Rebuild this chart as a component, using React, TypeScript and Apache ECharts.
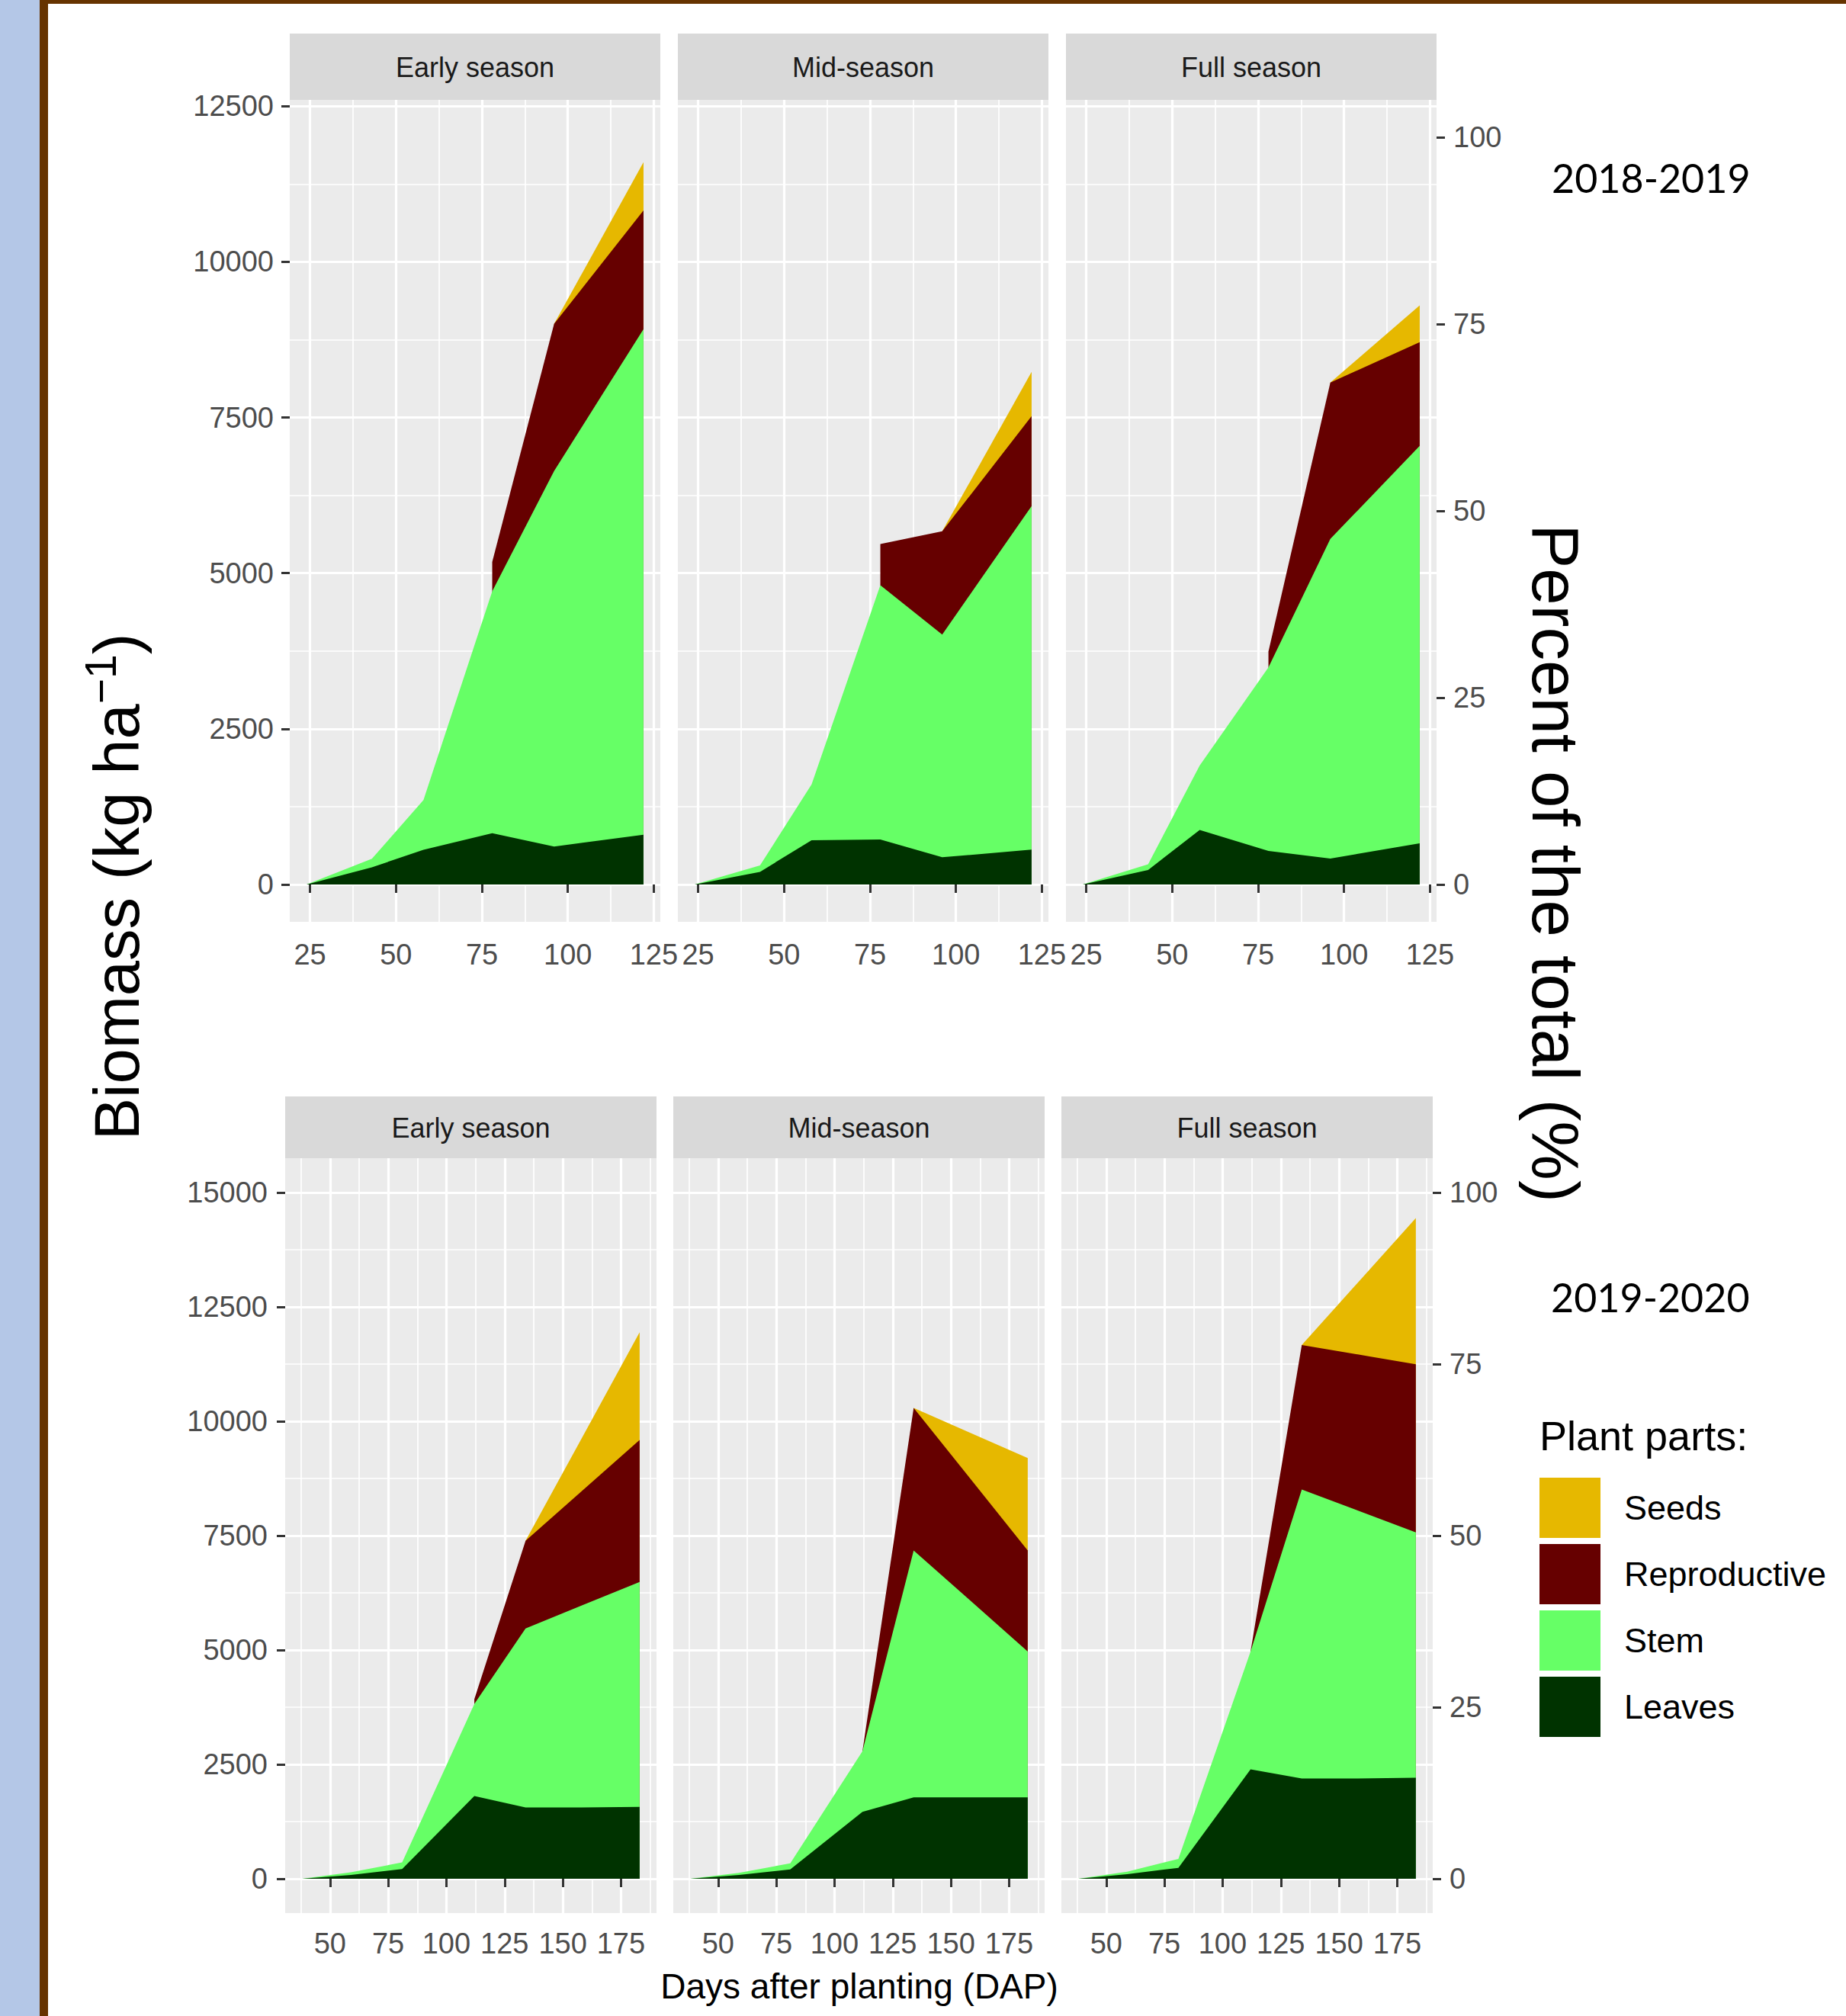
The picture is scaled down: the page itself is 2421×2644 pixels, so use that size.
import React, { useEffect, useRef } from 'react';
import * as echarts from 'echarts';

// ---------------- data ----------------
const SEASONS = ['Early season', 'Mid-season', 'Full season'];
const PARTS = ['Seeds', 'Reproductive', 'Stem', 'Leaves'];
const PART_COLORS = ['#E6B800', '#660000', '#66FF66', '#003300'];

const DAP_2018 = [24, 43, 58, 78, 96, 122];
const DAP_2019 = [38, 59, 81, 112, 134, 158, 183];

// 2018-2019, biomass of each plant part (kg/ha)
const LEAVES_18_EARLY = [0, 275, 558, 825, 610, 799];
const STEM_18_EARLY = [0, 137, 799, 3883, 6031, 8119];
const REPRO_18_EARLY = [null, null, null, 472, 2362, 1907];
const SEEDS_18_EARLY = [null, null, null, null, 0, 773];

const LEAVES_18_MID = [0, 203, 711, 721, 437, 559];
const STEM_18_MID = [0, 102, 895, 4086, 3577, 5518];
const REPRO_18_MID = [null, null, null, 660, 1657, 1443];
const SEEDS_18_MID = [null, null, null, null, 0, 712];

const LEAVES_18_FULL = [0, 234, 874, 539, 417, 660];
const STEM_18_FULL = [0, 91, 1037, 2947, 5132, 6383];
const REPRO_18_FULL = [null, null, null, 254, 2510, 1666];
const SEEDS_18_FULL = [null, null, null, null, 0, 590];

// 2019-2020
const LEAVES_19_EARLY = [0, 85, 211, 1810, 1559, 1560, 1572];
const STEM_19_EARLY = [0, 55, 146, 2009, 3911, 4409, 4916];
const REPRO_19_EARLY = [null, null, null, 105, 1916, 2497, 3105];
const SEEDS_19_EARLY = [null, null, null, null, 0, 1152, 2352];

const LEAVES_19_MID = [0, 83, 205, 1461, 1778, 1778, 1778];
const STEM_19_MID = [0, 45, 134, 1327, 5397, 4316, 3190];
const REPRO_19_MID = [null, null, null, 0, 3118, 2672, 2207];
const SEEDS_19_MID = [null, null, null, null, 0, 990, 2022];

const LEAVES_19_FULL = [0, 100, 239, 2392, 2193, 2193, 2210];
const STEM_19_FULL = [0, 55, 194, 2576, 6317, 5857, 5361];
const REPRO_19_FULL = [null, null, null, 0, 3158, 3411, 3674];
const SEEDS_19_FULL = [null, null, null, null, 0, 1566, 3198];

// axis breaks
const X_TICKS_2018 = [25, 50, 75, 100, 125];
const X_TICKS_2019 = [50, 75, 100, 125, 150, 175];
const Y_TICKS_2018 = [0, 2500, 5000, 7500, 10000, 12500];
const Y_TICKS_2019 = [0, 2500, 5000, 7500, 10000, 12500, 15000];
const PCT_TICKS = [0, 25, 50, 75, 100];
const Y_LIMITS_2018 = [0, 12000]; // 12000 kg/ha = 100 %
const Y_LIMITS_2019 = [0, 15000]; // 15000 kg/ha = 100 %

const YEARS = ['2018-2019', '2019-2020'];

// ---------------- layout ----------------
const W = 2421;
const H = 2644;
const FONT = 'Liberation Sans, Arial, Helvetica, sans-serif';

const ROWS = [
  { top: 131, height: 1078, lefts: [380, 889, 1398], width: 486, stripTop: 44, stripH: 87, xMargin: 24 },
  { top: 1519, height: 990, lefts: [374, 883, 1392], width: 487, stripTop: 1438, stripH: 81, xMargin: 21 },
];

type Layer = (number | null)[];

const PANELS: { row: number; col: number; dap: number[]; layers: Layer[] }[] = [
  { row: 0, col: 0, dap: DAP_2018, layers: [LEAVES_18_EARLY, STEM_18_EARLY, REPRO_18_EARLY, SEEDS_18_EARLY] },
  { row: 0, col: 1, dap: DAP_2018, layers: [LEAVES_18_MID, STEM_18_MID, REPRO_18_MID, SEEDS_18_MID] },
  { row: 0, col: 2, dap: DAP_2018, layers: [LEAVES_18_FULL, STEM_18_FULL, REPRO_18_FULL, SEEDS_18_FULL] },
  { row: 1, col: 0, dap: DAP_2019, layers: [LEAVES_19_EARLY, STEM_19_EARLY, REPRO_19_EARLY, SEEDS_19_EARLY] },
  { row: 1, col: 1, dap: DAP_2019, layers: [LEAVES_19_MID, STEM_19_MID, REPRO_19_MID, SEEDS_19_MID] },
  { row: 1, col: 2, dap: DAP_2019, layers: [LEAVES_19_FULL, STEM_19_FULL, REPRO_19_FULL, SEEDS_19_FULL] },
];

// cumulative tops (bottom layer first), missing values stay missing
function cumulate(layers: Layer[]): Layer[] {
  const n = layers[0].length;
  const running = new Array(n).fill(0);
  return layers.map((layer) =>
    layer.map((v, k) => {
      if (v == null) return null;
      running[k] += v;
      return running[k];
    })
  );
}

// ggplot2 default 5% expansion
function expand(lo: number, hi: number): [number, number] {
  const pad = (hi - lo) * 0.05;
  return [lo - pad, hi + pad];
}

const majorLine = { show: true, lineStyle: { color: '#FFFFFF', width: 3.2 } };
const minorLine = { show: true, lineStyle: { color: '#FFFFFF', width: 1.7 } };
const tickStyle = { length: 11, lineStyle: { color: '#333333', width: 3 } };
const labelStyle = { fontFamily: FONT, fontSize: 38, color: '#4D4D4D' };
const plain = (v: number) => String(v);

function buildOption() {
  const grid: any[] = [];
  const xAxis: any[] = [];
  const yAxis: any[] = [];
  const series: any[] = [];
  const graphic: any[] = [];

  // page decorations
  graphic.push({ type: 'rect', shape: { x: 0, y: 0, width: 52, height: H }, style: { fill: '#B4C7E7' }, silent: true });
  graphic.push({ type: 'rect', shape: { x: 52, y: 0, width: 11, height: H }, style: { fill: '#663300' }, silent: true });
  graphic.push({ type: 'rect', shape: { x: 52, y: 0, width: W - 52, height: 5 }, style: { fill: '#663300' }, silent: true });

  PANELS.forEach((p, i) => {
    const r = ROWS[p.row];
    const left = r.lefts[p.col];
    grid.push({
      left, top: r.top, width: r.width, height: r.height,
      show: true, backgroundColor: '#EBEBEB', borderWidth: 0, containLabel: false,
    });
    const xr = expand(Math.min(...p.dap), Math.max(...p.dap));
    const xt = p.row === 0 ? X_TICKS_2018 : X_TICKS_2019;
    xAxis.push({
      type: 'value', gridIndex: i, min: xr[0], max: xr[1], minInterval: 25, maxInterval: 25,
      axisLine: { show: false },
      axisTick: { show: true, ...tickStyle, customValues: xt },
      axisLabel: { show: true, ...labelStyle, margin: r.xMargin, customValues: xt, formatter: plain },
      splitLine: majorLine,
      minorTick: { show: false, splitNumber: 2 },
      minorSplitLine: minorLine,
    });
    const lim = p.row === 0 ? Y_LIMITS_2018 : Y_LIMITS_2019;
    const yr = expand(lim[0], lim[1]);
    const yt = p.row === 0 ? Y_TICKS_2018 : Y_TICKS_2019;
    const showY = p.col === 0;
    yAxis.push({
      type: 'value', gridIndex: i, min: yr[0], max: yr[1], minInterval: 2500, maxInterval: 2500,
      axisLine: { show: false },
      axisTick: { show: showY, ...tickStyle, customValues: yt },
      axisLabel: { show: showY, ...labelStyle, margin: p.row === 0 ? 21 : 23, customValues: yt, formatter: plain },
      splitLine: majorLine,
      minorTick: { show: false, splitNumber: 2 },
      minorSplitLine: minorLine,
    });

    // strip
    graphic.push({
      type: 'rect', shape: { x: left, y: r.stripTop, width: r.width, height: r.stripH },
      style: { fill: '#D9D9D9' }, silent: true,
    });
    graphic.push({
      type: 'text', x: left + r.width / 2, y: r.stripTop + r.stripH / 2 + 1, silent: true,
      style: { text: SEASONS[p.col], fontFamily: FONT, fontSize: 36, fill: '#1A1A1A', align: 'center', verticalAlign: 'middle' },
    });

    const tops = cumulate(p.layers); // leaves, stem, repro, seeds
    PARTS.forEach((name, j) => {
      const top = tops[3 - j];
      series.push({
        type: 'line', name, xAxisIndex: i, yAxisIndex: i,
        data: p.dap.map((d, k) => [d, top[k]]),
        color: PART_COLORS[j],
        symbol: 'none', showSymbol: false, silent: true,
        lineStyle: { width: 0, color: PART_COLORS[j] },
        itemStyle: { color: PART_COLORS[j] },
        areaStyle: { color: PART_COLORS[j], opacity: 1 },
        connectNulls: false,
        z: 2,
      });
    });
  });

  // secondary (percent) axes on the right of the "Full season" panels
  [2, 5].forEach((gi) => {
    const row = gi === 2 ? 0 : 1;
    const lim = row === 0 ? Y_LIMITS_2018 : Y_LIMITS_2019;
    const yr = expand(lim[0], lim[1]);
    yAxis.push({
      type: 'value', gridIndex: gi, position: 'right',
      min: (yr[0] / lim[1]) * 100, max: (yr[1] / lim[1]) * 100, minInterval: 25, maxInterval: 25,
      axisLine: { show: false },
      axisTick: { show: true, ...tickStyle, customValues: PCT_TICKS },
      axisLabel: { show: true, ...labelStyle, margin: 22, customValues: PCT_TICKS, formatter: plain },
      splitLine: { show: false },
      minorSplitLine: { show: false },
    });
  });

  // titles
  graphic.push({
    type: 'text', x: 153, y: 1163, rotation: Math.PI / 2, silent: true,
    style: {
      text: '{a|Biomass (kg ha}{b|−1}{a|)}',
      align: 'center', verticalAlign: 'middle', fill: '#000',
      rich: {
        a: { fontFamily: FONT, fontSize: 83, lineHeight: 100, fill: '#000' },
        b: { fontFamily: FONT, fontSize: 57, lineHeight: 57, verticalAlign: 'top', fill: '#000' },
      },
    },
  });
  graphic.push({
    type: 'text', x: 2040, y: 1132, rotation: -Math.PI / 2, silent: true,
    style: { text: 'Percent of the total (%)', fontFamily: FONT, fontSize: 87, fill: '#000', align: 'center', verticalAlign: 'middle' },
  });
  graphic.push({
    type: 'text', x: 1127, y: 2605, silent: true,
    style: { text: 'Days after planting (DAP)', fontFamily: FONT, fontSize: 46, fill: '#000', align: 'center', verticalAlign: 'middle' },
  });
  graphic.push({
    type: 'text', x: 2035, y: 233, silent: true,
    style: { text: YEARS[0], fontFamily: 'Lato, Open Sans, sans-serif', fontSize: 52, fill: '#000', align: 'left', verticalAlign: 'middle' },
  });
  graphic.push({
    type: 'text', x: 2034, y: 1701, silent: true,
    style: { text: YEARS[1], fontFamily: 'Lato, Open Sans, sans-serif', fontSize: 52, fill: '#000', align: 'left', verticalAlign: 'middle' },
  });
  graphic.push({
    type: 'text', x: 2019, y: 1883, silent: true,
    style: { text: 'Plant parts:', fontFamily: FONT, fontSize: 54, fill: '#000', align: 'left', verticalAlign: 'middle' },
  });

  return {
    animation: false,
    backgroundColor: '#FFFFFF',
    grid, xAxis, yAxis, series, graphic,
    legend: {
      data: PARTS, orient: 'vertical', left: 2019, top: 1938, padding: 0,
      itemWidth: 80, itemHeight: 79, itemGap: 8, icon: 'rect', selectedMode: false,
      itemStyle: { borderWidth: 0 },
      textStyle: { fontFamily: FONT, fontSize: 45, color: '#000', padding: [0, 0, 0, 26] },
    },
  };
}

export default function App() {
  const ref = useRef<HTMLDivElement>(null);
  useEffect(() => {
    const chart = echarts.init(ref.current as HTMLDivElement, null, { renderer: 'svg', width: W, height: H });
    chart.setOption(buildOption() as any);
    return () => chart.dispose();
  }, []);
  return <div ref={ref} style={{ position: 'absolute', left: 0, top: 0, width: W, height: H, background: '#fff' }} />;
}
